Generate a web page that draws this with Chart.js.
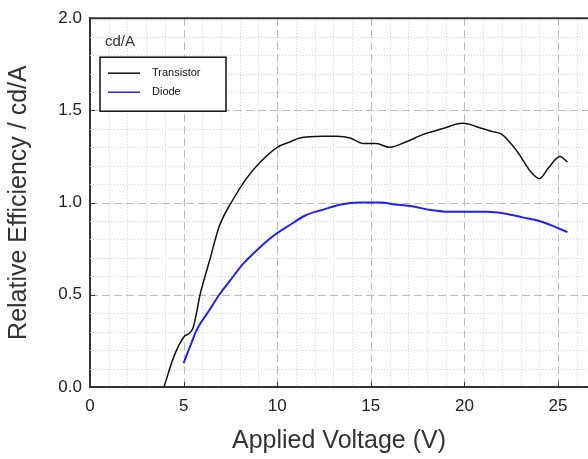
<!DOCTYPE html>
<html>
<head>
<meta charset="utf-8">
<script src="https://cdn.jsdelivr.net/npm/chart.js@4.4.0/dist/chart.umd.min.js"></script>
<style>
  body { margin: 0; background: #fff; }
  canvas { display: block; }
</style>
</head>
<body>
<canvas id="eff" width="588" height="459"></canvas>
<script>
// data
var seriesNames = ['Transistor', 'Diode'];
var transistorV = [3.95, 4.5, 5.0, 5.5, 5.9, 6.4, 6.9, 7.6, 8.35, 9.1, 10.0, 10.7, 11.2, 12.4, 13.2, 13.9, 14.6, 15.3, 16.0, 16.9, 17.8, 18.8, 19.9, 21.0, 21.5, 22.0, 22.8, 23.6, 24.0, 24.5, 25.1, 25.5];
var transistorEff = [0.0, 0.17, 0.27, 0.32, 0.51, 0.69, 0.87, 1.01, 1.13, 1.22, 1.30, 1.33, 1.35, 1.36, 1.36, 1.35, 1.32, 1.32, 1.30, 1.33, 1.37, 1.40, 1.43, 1.40, 1.385, 1.37, 1.28, 1.16, 1.13, 1.19, 1.25, 1.22];
var diodeV = [5.0, 5.5, 5.7, 6.4, 6.9, 7.5, 8.2, 9.0, 9.8, 10.7, 11.5, 12.4, 13.4, 14.4, 15.5, 16.3, 17.2, 18.2, 19.2, 20.2, 21.2, 22.2, 23.1, 24.0, 24.8, 25.5];
var diodeEff = [0.13, 0.26, 0.31, 0.42, 0.50, 0.58, 0.67, 0.75, 0.82, 0.88, 0.93, 0.96, 0.99, 1.00, 1.00, 0.99, 0.98, 0.96, 0.95, 0.95, 0.95, 0.94, 0.92, 0.90, 0.87, 0.84];
var seriesColors = ['#111111', '#1f1fff'];

function toPoints(xs, ys) {
  return xs.map(function(x, i) { return {x: x, y: ys[i]}; });
}

// grid with dashed majors and dotted minors, plus top border and inner ticks
var grid_plug = {
  id: 'gridPlug',
  beforeDatasetsDraw: function(chart) {
    var ctx = chart.ctx, a = chart.chartArea;
    var xs = chart.scales.x, ys = chart.scales.y;
    ctx.save();
    ctx.lineWidth = 1;
    // minor
    ctx.strokeStyle = '#d2d2d2';
    ctx.setLineDash([1, 2]);
    for (var i = 1; i <= 26; i++) {
      if (i % 5 === 0) continue;
      var px = Math.round(xs.getPixelForValue(i)) + 0.5;
      ctx.beginPath(); ctx.moveTo(px, a.top); ctx.lineTo(px, a.bottom); ctx.stroke();
    }
    for (var j = 1; j < 20; j++) {
      if (j % 5 === 0) continue;
      var py = Math.round(ys.getPixelForValue(j / 10)) + 0.5;
      ctx.beginPath(); ctx.moveTo(a.left, py); ctx.lineTo(a.right, py); ctx.stroke();
    }
    // major
    ctx.strokeStyle = '#bcbcbc';
    ctx.setLineDash([8, 4]);
    [5, 10, 15, 20, 25].forEach(function(v) {
      var px = Math.round(xs.getPixelForValue(v)) + 0.5;
      ctx.beginPath(); ctx.moveTo(px, a.top); ctx.lineTo(px, a.bottom); ctx.stroke();
    });
    [0.5, 1.0, 1.5].forEach(function(v) {
      var py = Math.round(ys.getPixelForValue(v)) + 0.5;
      ctx.beginPath(); ctx.moveTo(a.left, py); ctx.lineTo(a.right, py); ctx.stroke();
    });
    ctx.setLineDash([]);
    // inner tick marks
    ctx.strokeStyle = '#333';
    [5, 10, 15, 20, 25].forEach(function(v) {
      var px = Math.round(xs.getPixelForValue(v)) + 0.5;
      ctx.beginPath(); ctx.moveTo(px, a.bottom); ctx.lineTo(px, a.bottom - 5); ctx.stroke();
    });
    [0.5, 1.0, 1.5].forEach(function(v) {
      var py = Math.round(ys.getPixelForValue(v)) + 0.5;
      ctx.beginPath(); ctx.moveTo(a.left, py); ctx.lineTo(a.left + 5, py); ctx.stroke();
    });
    // top border
    ctx.lineWidth = 2;
    ctx.beginPath(); ctx.moveTo(a.left, a.top); ctx.lineTo(a.right, a.top); ctx.stroke();
    ctx.restore();
  },
  afterDraw: function(chart) {
    var ctx = chart.ctx, a = chart.chartArea;
    ctx.save();
    // unit label
    ctx.fillStyle = '#333';
    ctx.font = "15px 'Liberation Sans'";
    ctx.textBaseline = 'middle';
    ctx.fillText('cd/A', a.left + 15, a.top + 24);
    // legend box
    var bx = a.left + 10, by = a.top + 39, bw = 126, bh = 54;
    ctx.fillStyle = '#fff';
    ctx.fillRect(bx, by, bw, bh);
    ctx.strokeStyle = '#111';
    ctx.lineWidth = 1.5;
    ctx.strokeRect(bx, by, bw, bh);
    ctx.font = "11px 'Liberation Sans'";
    chart.data.datasets.forEach(function(ds, k) {
      var ly = by + 16 + k * 19;
      ctx.strokeStyle = ds.borderColor;
      ctx.lineWidth = 1.5;
      ctx.beginPath(); ctx.moveTo(bx + 8, ly); ctx.lineTo(bx + 40, ly); ctx.stroke();
      ctx.fillStyle = '#111';
      ctx.fillText(ds.label, bx + 52, ly);
    });
    ctx.restore();
  }
};

var ctx = document.getElementById('eff').getContext('2d');
var chart = new Chart(ctx, {
  type: 'line',
  plugins: [grid_plug],
  data: {
    datasets: [{
      label: seriesNames[0],
      data: toPoints(transistorV, transistorEff),
      borderColor: seriesColors[0],
      borderWidth: 1.5,
      pointRadius: 0,
      cubicInterpolationMode: 'monotone'
    }, {
      label: seriesNames[1],
      data: toPoints(diodeV, diodeEff),
      borderColor: seriesColors[1],
      borderWidth: 2,
      pointRadius: 0,
      cubicInterpolationMode: 'monotone'
    }]
  },
  options: {
    responsive: false,
    animation: false,
    events: [],
    layout: { padding: { top: 16, right: 0, left: 0, bottom: 0 } },
    plugins: {
      legend: { display: false },
      tooltip: { enabled: false }
    },
    scales: {
      x: {
        type: 'linear',
        min: 0,
        max: 26.6,
        afterFit: function(s) { s.height = 72; },
        grid: { display: false, drawTicks: false },
        border: { display: true, color: '#333', width: 2 },
        ticks: {
          stepSize: 5,
          includeBounds: false,
          padding: 9,
          color: '#222',
          font: { family: "'Liberation Sans'", size: 17 }
        },
        title: {
          display: true,
          text: 'Applied Voltage (V)',
          color: '#333',
          font: { family: "'Liberation Sans'", size: 25 },
          padding: { top: 0, bottom: 3 }
        }
      },
      y: {
        min: 0,
        max: 2,
        afterFit: function(s) { s.width = 90; },
        grid: { display: false, drawTicks: false },
        border: { display: true, color: '#333', width: 2 },
        ticks: {
          stepSize: 0.5,
          padding: 8,
          color: '#222',
          font: { family: "'Liberation Sans'", size: 17 },
          callback: function(v) { return v.toFixed(1); }
        },
        title: {
          display: true,
          text: 'Relative Efficiency / cd/A',
          color: '#333',
          font: { family: "'Liberation Sans'", size: 25 },
          padding: { top: 4, bottom: 0 }
        }
      }
    }
  }
});
</script>
</body>
</html>
